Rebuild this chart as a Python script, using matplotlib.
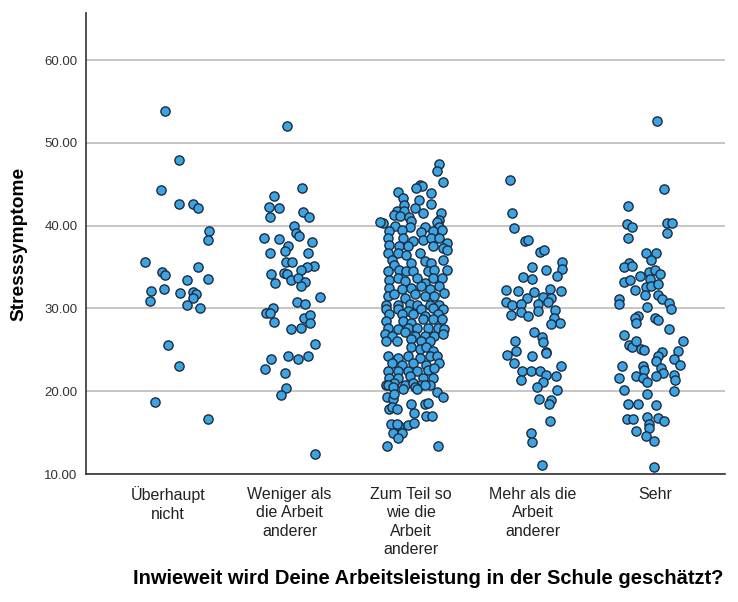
import matplotlib
matplotlib.use('Agg')
import matplotlib.pyplot as plt

plt.rcParams['font.family'] = ['Liberation Sans', 'DejaVu Sans']

categories = ['Überhaupt\nnicht', 'Weniger als\ndie Arbeit\nanderer', 'Zum Teil so\nwie die\nArbeit\nanderer',
              'Mehr als die\nArbeit\nanderer', 'Sehr']

# Stresssymptome per group, with the horizontal jitter of each point
stress_0 = [53.8, 47.9, 44.3, 42.6, 42.6, 42.2, 39.4, 38.3, 35.6, 34.4, 34.0, 35.0, 33.4, 33.6,
            32.1, 32.3, 31.9, 32.0, 31.8, 31.3, 30.9, 30.4, 30.0, 25.6, 23.0, 18.7, 16.7]
jitter_0 = [-0.02, 0.09, -0.06, 0.09, 0.21, 0.25, 0.34, 0.33, -0.19, -0.05, -0.02, 0.25, 0.16, 0.33,
            -0.14, -0.03, 0.10, 0.21, 0.23, 0.21, -0.15, 0.16, 0.26, 0.00, 0.09, -0.11, 0.33]

stress_1 = [52.1, 44.5, 43.6, 42.3, 42.1, 41.0, 41.6, 41.1, 40.0, 39.1, 38.7, 38.5, 38.4, 38.0,
            37.6, 36.9, 36.7, 36.7, 35.6, 35.6, 35.1, 35.0, 34.7, 34.2, 34.3, 34.2, 33.1, 33.5,
            33.7, 33.2, 32.7, 31.4, 30.8, 30.5, 30.1, 29.5, 29.4, 28.8, 29.2, 28.3, 28.4, 27.5,
            27.6, 25.7, 23.9, 24.2, 23.9, 24.3, 22.7, 22.2, 20.4, 19.5, 12.4]
jitter_1 = [-0.02, 0.10, -0.13, -0.17, -0.09, -0.16, 0.11, 0.16, 0.04, 0.05, 0.08, -0.21, -0.09, 0.18,
            -0.01, -0.04, -0.16, 0.15, -0.03, 0.02, 0.20, 0.14, 0.09, -0.15, -0.05, -0.02, -0.12, 0.01,
            0.07, 0.13, 0.09, 0.25, 0.06, 0.13, -0.14, -0.19, -0.16, 0.12, 0.17, 0.17, -0.13, 0.01,
            0.09, 0.21, -0.15, -0.01, 0.07, 0.15, -0.20, -0.04, -0.03, -0.07, 0.21]

stress_2 = [47.5, 46.6, 45.3, 44.9, 44.8, 44.6, 44.0, 44.1, 43.4, 43.1, 42.5, 42.6, 42.2, 41.8,
            41.8, 41.5, 41.3, 41.2, 41.0, 41.5, 40.7, 40.3, 40.4, 40.6, 40.0, 39.8, 39.8, 39.8, 40.5,
            39.4, 39.5, 39.3, 39.4, 39.5,
            38.5, 38.5, 38.2, 38.3, 38.5, 38.5, 37.9,
            37.7, 37.5, 37.5, 37.5, 37.3, 37.1, 36.7,
            36.7, 36.7, 36.5,
            35.9, 35.3, 35.5, 35.7, 35.5, 35.9,
            34.5, 34.7, 34.5, 34.5, 34.5, 34.7, 34.7,
            33.5, 33.7, 33.3, 33.7, 33.1, 33.7, 33.7,
            32.5, 32.3, 32.5, 32.7, 32.3, 32.7,
            31.5, 31.7, 31.3, 31.7, 31.5, 31.5, 31.9,
            30.4, 30.4, 30.5, 30.4, 30.4, 30.4,
            29.9, 29.9, 29.7, 29.9, 30.1, 29.9,
            29.3, 29.3, 29.3, 29.1, 29.3,
            28.5, 28.5, 28.3, 28.7, 28.7, 28.7,
            27.7, 27.5, 27.7, 27.7, 27.7, 27.7, 27.5,
            26.9, 26.7, 27.1, 26.7, 26.7, 26.7, 26.9,
            26.1, 26.1, 26.3, 26.1, 26.1,
            25.3, 25.1, 25.3, 24.9,
            24.3, 24.0, 24.3, 24.0, 24.3, 24.3,
            23.4, 23.2, 23.4, 23.2, 23.4,
            22.4, 22.4, 22.4, 22.4, 22.6, 22.8,
            21.6, 21.6, 21.8, 21.6, 21.6,
            20.8, 21.0, 20.8, 21.0, 20.8, 20.8,
            20.7, 20.5, 20.3, 20.5, 20.3, 20.7, 19.9, 19.3, 19.3, 19.1, 19.7, 18.5, 17.9, 18.1,
            17.9, 18.5, 18.6, 17.4, 17.0, 17.0, 16.0, 15.8, 16.0, 15.9, 16.2, 15.0, 15.0, 14.3,
            13.4, 13.4]
jitter_2 = [0.23, 0.21, 0.26, 0.07, 0.09, 0.04, 0.16, -0.11, -0.07, 0.06, -0.06, 0.16, 0.03, -0.12,
            -0.06, 0.10, -0.14, -0.09, -0.02, 0.24, 0.23, -0.23, 0.21, 0.00, -0.13, -0.01, 0.11, 0.23, -0.26,
            -0.18, -0.08, 0.08, 0.18, 0.25,
            -0.19, -0.07, 0.01, 0.10, 0.16, 0.23, 0.29,
            -0.18, -0.10, -0.03, 0.18, 0.26, 0.29, 0.07,
            -0.19, -0.11, -0.04,
            -0.16, -0.14, 0.00, 0.11, 0.16, 0.26,
            -0.19, -0.10, -0.04, 0.01, 0.14, 0.19, 0.29,
            -0.18, -0.11, -0.05, 0.05, 0.11, 0.18, 0.25,
            -0.18, -0.08, 0.00, 0.08, 0.15, 0.23,
            -0.19, -0.14, -0.05, 0.03, 0.11, 0.19, 0.27,
            -0.21, -0.11, -0.01, 0.05, 0.15, 0.23,
            -0.21, -0.11, -0.03, 0.08, 0.18, 0.26,
            -0.18, -0.08, 0.01, 0.11, 0.22,
            -0.21, -0.07, 0.00, 0.10, 0.18, 0.25,
            -0.19, -0.11, -0.03, 0.05, 0.14, 0.22, 0.27,
            -0.22, -0.16, -0.05, 0.03, 0.11, 0.19, 0.26,
            -0.21, -0.12, 0.00, 0.08, 0.15,
            0.00, 0.07, 0.12, 0.18,
            -0.19, -0.11, -0.03, 0.07, 0.15, 0.21,
            -0.16, -0.08, 0.01, 0.12, 0.23,
            -0.19, -0.11, -0.03, 0.05, 0.14, 0.19,
            -0.18, -0.11, -0.01, 0.10, 0.18,
            -0.21, -0.14, -0.05, 0.01, 0.08, 0.15,
            -0.19, -0.15, -0.07, 0.03, 0.05, 0.11, 0.21, 0.26, -0.20, -0.15, -0.14, 0.00, -0.18, -0.16,
            -0.12, 0.11, 0.14, 0.02, 0.12, 0.17, -0.17, -0.10, -0.12, -0.03, 0.02, -0.15, -0.08, -0.11,
            -0.20, 0.22]

stress_3 = [45.5, 41.5, 39.7, 38.2, 38.3, 36.8, 37.1, 35.6, 34.8, 35.0, 34.6, 33.8, 33.6, 33.9,
            32.2, 32.1, 32.0, 32.4, 32.1, 31.3, 31.4, 31.3, 30.8, 30.4, 30.5, 30.6, 30.8, 29.2,
            29.6, 29.1, 29.7, 29.8, 28.9, 28.3, 28.1, 27.1, 26.6, 25.9, 24.8, 24.6, 26.1, 24.9,
            24.4, 24.3, 23.4, 23.0, 22.4, 22.4, 22.4, 22.0, 21.9, 21.4, 21.1, 20.5, 20.1, 19.1,
            18.9, 18.4, 16.4, 14.9, 13.9, 11.1]
jitter_3 = [-0.19, -0.17, -0.16, -0.07, -0.04, 0.06, 0.09, 0.24, 0.24, -0.01, 0.11, -0.08, -0.01, 0.20,
            -0.22, -0.12, 0.01, 0.14, 0.23, -0.05, 0.08, 0.15, -0.22, -0.17, -0.10, 0.04, 0.12, -0.18,
            -0.10, -0.04, 0.04, 0.18, 0.17, 0.22, 0.15, 0.01, 0.07, 0.08, 0.11, 0.11, -0.15, -0.14,
            -0.21, -0.01, -0.16, 0.23, -0.09, -0.02, 0.06, 0.11, 0.19, -0.10, 0.08, 0.03, 0.20, 0.05,
            0.15, 0.13, 0.14, -0.02, -0.01, 0.07]

stress_4 = [52.7, 44.4, 42.4, 40.2, 39.9, 40.3, 40.3, 39.1, 38.5, 36.7, 36.7, 35.9, 35.5, 35.0,
            35.1, 34.4, 34.7, 34.2, 33.9, 33.6, 33.2, 33.4, 32.6, 32.7, 32.9, 32.2, 31.6, 31.6,
            31.2, 31.2, 30.5, 30.7, 29.9, 30.2, 29.1, 28.8, 28.3, 28.9, 28.6, 27.5, 26.8, 26.1,
            25.6, 25.3, 26.1, 25.1, 25.0, 24.8, 24.9, 24.2, 23.7, 23.9, 23.2, 23.0, 23.0, 22.6,
            22.8, 22.2, 21.8, 21.6, 21.8, 22.0, 21.6, 21.1, 21.3, 20.2, 19.7, 20.0, 18.5, 18.5,
            18.3, 16.6, 16.6, 16.9, 16.8, 16.4, 16.1, 15.5, 15.2, 14.6, 14.0, 10.9]
jitter_4 = [0.02, 0.08, -0.22, -0.23, -0.19, 0.10, 0.14, 0.10, -0.22, -0.07, 0.01, -0.03, -0.21, -0.25,
            -0.19, -0.05, 0.00, 0.04, -0.12, -0.04, -0.25, -0.20, -0.07, -0.03, 0.03, -0.16, -0.08, 0.03,
            0.06, -0.29, -0.29, 0.12, 0.13, -0.06, -0.14, -0.16, -0.15, 0.00, 0.03, 0.12, -0.25, 0.23,
            -0.21, -0.19, -0.15, -0.11, -0.09, 0.06, 0.19, 0.03, 0.01, 0.16, 0.21, -0.27, -0.10, -0.09,
            0.05, 0.07, -0.15, -0.10, 0.01, 0.16, -0.29, -0.06, 0.17, -0.25, -0.06, 0.16, -0.22, -0.14,
            0.01, -0.23, -0.18, -0.06, 0.03, 0.08, -0.05, -0.05, -0.15, -0.07, -0.01, -0.01]

groups = [(stress_0, jitter_0), (stress_1, jitter_1), (stress_2, jitter_2),
          (stress_3, jitter_3), (stress_4, jitter_4)]

fig = plt.figure(figsize=(7.38, 6.02), dpi=100)
ax = fig.add_axes([0.1165, 0.2126, 0.8655, 0.7658])

for i, (vals, jit) in enumerate(groups):
    xs = [i + j for j in jit]
    ax.scatter(xs, vals, s=44, color='#3ca4e2', edgecolors='#1c2b3f', linewidths=1.0, zorder=3)

ax.set_ylim(10, 65.7)
ax.set_xlim(-0.673, 4.575)
ax.set_yticks([10, 20, 30, 40, 50, 60])
ax.set_yticklabels(['10.00', '20.00', '30.00', '40.00', '50.00', '60.00'])
ax.set_xticks(range(5))
ax.set_xticklabels(categories, fontsize=11.5, color='#222222', linespacing=1.3)
ax.tick_params(axis='y', labelsize=9.5, labelcolor='#333333', length=0, pad=6)
ax.tick_params(axis='x', length=0, pad=9)
ax.yaxis.grid(True, color='#c6c6c6', linewidth=1.4, zorder=0)
ax.set_axisbelow(True)

for side in ['top', 'right']:
    ax.spines[side].set_visible(False)
for side in ['left', 'bottom']:
    ax.spines[side].set_color('#333333')
    ax.spines[side].set_linewidth(1.2)

ax.set_ylabel('Stresssymptome', fontsize=13.8, fontweight='bold', labelpad=12)
fig.text(428 / 738, 1 - 578 / 602, 'Inwieweit wird Deine Arbeitsleistung in der Schule geschätzt?',
         ha='center', va='center', fontsize=14.5, fontweight='bold')

fig.savefig('out.png', dpi=100)
